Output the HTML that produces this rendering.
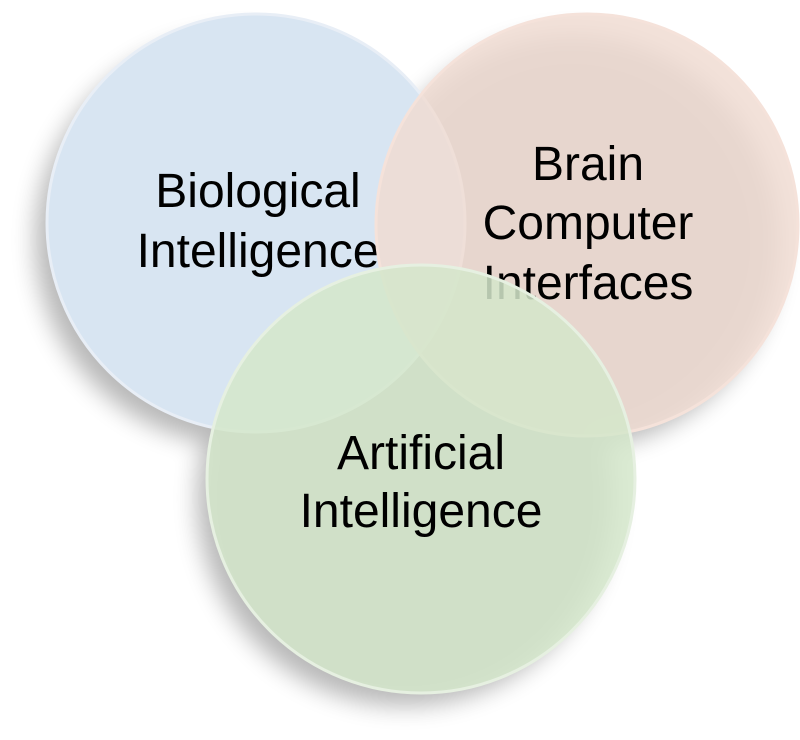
<!DOCTYPE html>
<html><head><style>
html,body{margin:0;padding:0;background:#fff;width:800px;height:740px;overflow:hidden}
svg{display:block}
text{font-family:"Liberation Sans",sans-serif;font-size:48px;fill:#000;text-anchor:middle}
</style></head><body>
<svg width="800" height="740" viewBox="0 0 800 740">
<defs>
<filter id="sh" x="-30%" y="-30%" width="160%" height="160%"><feGaussianBlur stdDeviation="12"/></filter>
</defs>
<g filter="url(#sh)" fill="#000" opacity="0.28">
<circle cx="240" cy="240" r="205"/>
<circle cx="572" cy="242" r="207"/>
<circle cx="405" cy="498" r="208"/>
</g>
<circle cx="256" cy="223" r="209" fill="#d8e5f2" stroke="#e8eef6" stroke-width="3"/>
<text x="258" y="207">Biological</text>
<text x="258" y="267">Intelligence</text>
<circle cx="587" cy="225" r="211" fill="#f0dcd2" fill-opacity="0.85" stroke="#f5e2da" stroke-width="3"/>
<text x="588" y="180">Brain</text>
<text x="588" y="239">Computer</text>
<text x="588" y="299">Interfaces</text>
<circle cx="421" cy="479" r="214" fill="#d4e7cb" fill-opacity="0.86" stroke="#e6f0e1" stroke-width="3"/>
<text x="421" y="469">Artificial</text>
<text x="421" y="527">Intelligence</text>
</svg>
</body></html>
